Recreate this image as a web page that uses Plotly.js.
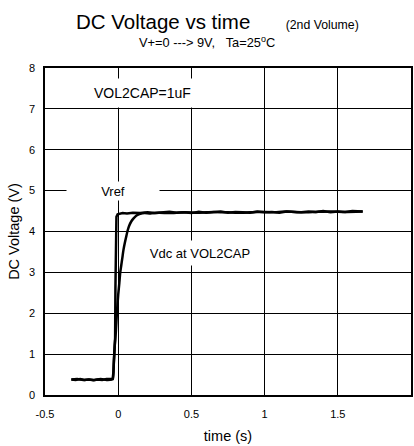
<!DOCTYPE html>
<html>
<head>
<meta charset="utf-8">
<script src="https://cdn.plot.ly/plotly-3.0.1.min.js"></script>
<style>html,body{margin:0;padding:0;background:#fff;}#chart{width:414px;height:446px;}</style>
</head>
<body>
<div id="chart"></div>
<script>
// Vref trace (fast step)
const vrefTime = [-0.32,-0.29,-0.26,-0.23,-0.20,-0.17,-0.14,-0.11,-0.08,-0.05,-0.038,-0.033,-0.029,-0.025,-0.021,-0.019,-0.017,-0.012,-0.004,0.01,0.03,0.06,0.10,0.15,0.20,0.25,0.30,0.35,0.40,0.45,0.50,0.55,0.60,0.65,0.70,0.75,0.80,0.85,0.90,0.95,1.00,1.05,1.10,1.15,1.20,1.25,1.30,1.35,1.40,1.45,1.50,1.55,1.60,1.67];
const vrefVolt = [0.38,0.37,0.39,0.37,0.38,0.36,0.38,0.37,0.39,0.38,0.39,0.55,0.95,1.15,1.4,2.6,4.1,4.36,4.42,4.43,4.45,4.44,4.46,4.45,4.47,4.45,4.46,4.48,4.46,4.47,4.45,4.48,4.46,4.47,4.49,4.46,4.48,4.47,4.46,4.49,4.47,4.48,4.46,4.49,4.48,4.47,4.49,4.48,4.50,4.47,4.49,4.48,4.50,4.49];
// Vdc at VOL2CAP trace (slower rise)
const vdcTime = [-0.32,-0.28,-0.24,-0.20,-0.16,-0.12,-0.08,-0.045,-0.036,-0.03,-0.024,-0.016,-0.009,0.0,0.008,0.014,0.02,0.028,0.036,0.045,0.055,0.065,0.075,0.09,0.105,0.125,0.15,0.18,0.22,0.28,0.35,0.45,0.55,0.65,0.75,0.85,0.95,1.05,1.15,1.25,1.35,1.45,1.55,1.67];
const vdcVolt = [0.38,0.39,0.37,0.38,0.37,0.39,0.37,0.38,0.40,0.80,1.20,1.55,2.0,2.45,2.75,3.0,3.15,3.35,3.55,3.72,3.88,4.03,4.14,4.25,4.32,4.39,4.43,4.45,4.44,4.46,4.45,4.47,4.46,4.48,4.47,4.46,4.48,4.47,4.49,4.47,4.48,4.49,4.48,4.49];

const xTickVals = [-0.5,0,0.5,1,1.5,2];
const xTickText = ['-0.5','0','0.5','1','1.5','2'];
const yTickVals = [0,1,2,3,4,5,6,7,8];
const yTickText = ['0','1','2','3','4','5','6','7','8'];

const FONT = 'Liberation Sans, Arial, sans-serif';
const GRID = '#000000';

const xMin = xTickVals[0], xMax = xTickVals[xTickVals.length - 1];
const yMin = yTickVals[0], yMax = yTickVals[yTickVals.length - 1];

const traces = [
  {x: vrefTime, y: vrefVolt, mode: 'lines', line: {color: '#000', width: 2.5}, name: 'Vref', hoverinfo: 'skip'},
  {x: vdcTime, y: vdcVolt, mode: 'lines', line: {color: '#000', width: 2.5, shape: 'spline', smoothing: 0.5}, name: 'Vdc at VOL2CAP', hoverinfo: 'skip'}
];

const layout = {
  width: 414, height: 446,
  margin: {l: 45, r: 3, t: 68, b: 51},
  paper_bgcolor: '#fff', plot_bgcolor: '#fff',
  showlegend: false,
  font: {family: FONT, color: '#000', size: 11},
  xaxis: {
    range: [xMin, xMax], tickmode: 'array', tickvals: xTickVals, ticktext: xTickText,
    showgrid: true, gridcolor: GRID, gridwidth: 1, zeroline: false,
    showline: true, linecolor: '#000', linewidth: 1.5, mirror: true,
    ticks: '', ticklabelstandoff: 8, tickfont: {size: 11, family: FONT},
    title: {text: 'time (s)', font: {size: 14.5, family: FONT}, standoff: 12}
  },
  yaxis: {
    range: [yMin, yMax], tickmode: 'array', tickvals: yTickVals, ticktext: yTickText,
    showgrid: true, gridcolor: GRID, gridwidth: 1, zeroline: false,
    showline: true, linecolor: '#000', linewidth: 1.5, mirror: true,
    ticks: '', ticklabelstandoff: 6, tickfont: {size: 11, family: FONT},
    title: {text: 'DC Voltage (V)', font: {size: 14.5, family: FONT}, standoff: 6}
  },
  annotations: [
    {xref: 'paper', yref: 'paper', x: 0.47, y: 1.1407, xanchor: 'center', yanchor: 'middle', showarrow: false,
     text: 'DC Voltage vs time\u00a0\u00a0\u00a0\u00a0\u00a0<span style="font-size:12.3px">\u00a0\u00a0(2nd Volume)</span>',
     font: {size: 20.5, family: FONT}},
    {xref: 'paper', yref: 'paper', x: 0.443, y: 1.0795, xanchor: 'center', yanchor: 'middle', showarrow: false,
     text: 'V+=0 ---> 9V,\u00a0\u00a0\u00a0Ta=25<sup>o</sup>C', font: {size: 12.8, family: FONT}},
    {xref: 'x', yref: 'y', x: 0.165, y: 7.38, showarrow: false, text: 'VOL2CAP=1uF',
     font: {size: 14, family: FONT}, bgcolor: '#fff', borderpad: 6},
    {xref: 'x', yref: 'y', x: -0.034, y: 4.99, showarrow: false, text: 'Vref',
     font: {size: 13, family: FONT}, bgcolor: '#fff', width: 90, height: 16},
    {xref: 'x', yref: 'y', x: 0.56, y: 3.47, showarrow: false, text: 'Vdc at VOL2CAP',
     font: {size: 13, family: FONT}, bgcolor: '#fff', width: 122, height: 22}
  ]
};

Plotly.newPlot('chart', traces, layout, {displayModeBar: false});
</script>
</body>
</html>
